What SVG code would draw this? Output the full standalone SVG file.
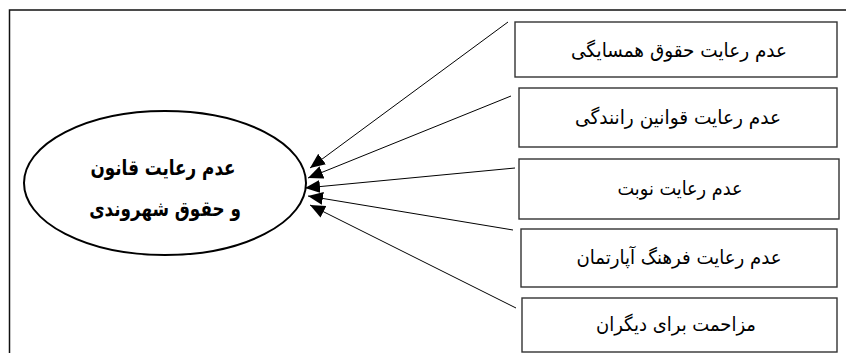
<svg xmlns="http://www.w3.org/2000/svg" width="846" height="353" viewBox="0 0 846 353">
<style>
.frame{fill:none;stroke:#111;stroke-width:1.5}
.box{fill:#fff;stroke:#333;stroke-width:1.4}
.ell{fill:#fff;stroke:#000;stroke-width:2}
.conn{stroke:#000;stroke-width:1;fill:none;marker-end:url(#ah)}
.lbl{font-family:"DejaVu Sans",sans-serif;font-size:19.5px;fill:#000;text-anchor:middle;direction:rtl}
.main{font-family:"DejaVu Sans",sans-serif;font-size:21px;font-weight:bold;fill:#000;text-anchor:middle;direction:rtl}
</style>
<defs>
<marker id="ah" markerUnits="userSpaceOnUse" markerWidth="18" markerHeight="14" refX="15" refY="6.5" orient="auto">
<path d="M0,0 L15,6.5 L0,13 z" fill="#000"/>
</marker>
</defs>
<rect width="846" height="353" fill="#fff"/>
<path class="frame" d="M9.5,353 V10 H846"/>
<g id="connectors">
<line class="conn" x1="508" y1="22" x2="310" y2="168"/>
<line class="conn" x1="511" y1="96" x2="308" y2="178"/>
<line class="conn" x1="515" y1="168" x2="305" y2="188"/>
<line class="conn" x1="513" y1="230" x2="308" y2="196"/>
<line class="conn" x1="516" y1="308" x2="310" y2="205"/>
</g>
<g id="main">
<ellipse class="ell" cx="165" cy="183" rx="141" ry="72"/>
<text class="main" transform="translate(163,175) scale(0.8,1)">عدم رعایت قانون</text>
<text class="main" transform="translate(165,216) scale(0.8,1)">و حقوق شهروندی</text>
</g>
<g id="n1">
<rect class="box" x="515" y="22" width="322" height="55"/>
<text class="lbl" x="679" y="57" textLength="216" lengthAdjust="spacingAndGlyphs">عدم رعایت حقوق همسایگی</text>
</g>
<g id="n2">
<rect class="box" x="519" y="88" width="318" height="59"/>
<text class="lbl" x="678" y="124" textLength="206" lengthAdjust="spacingAndGlyphs">عدم رعایت قوانین رانندگی</text>
</g>
<g id="n3">
<rect class="box" x="519" y="159" width="320" height="60"/>
<text class="lbl" x="680" y="195" textLength="125" lengthAdjust="spacingAndGlyphs">عدم رعایت نوبت</text>
</g>
<g id="n4">
<rect class="box" x="521" y="229" width="316" height="58"/>
<text class="lbl" x="679" y="264" textLength="205" lengthAdjust="spacingAndGlyphs">عدم رعایت فرهنگ آپارتمان</text>
</g>
<g id="n5">
<rect class="box" x="522" y="298" width="315" height="54"/>
<text class="lbl" x="676" y="331" textLength="160" lengthAdjust="spacingAndGlyphs">مزاحمت برای دیگران</text>
</g>
</svg>
